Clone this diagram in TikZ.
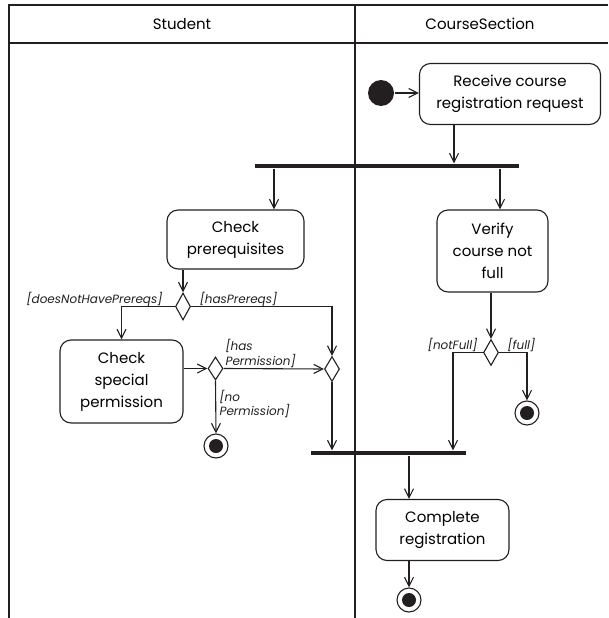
\documentclass[tikz,border=0pt]{standalone}
\usepackage{fontspec}
\setmainfont{Poppins}
\usepackage{tikz}
\usetikzlibrary{positioning,arrows.meta,shapes.geometric}
\definecolor{ink}{HTML}{231F20}

\begin{document}
\begin{tikzpicture}[x=1pt, y=-1pt,
  font=\fontsize{15}{22}\selectfont, line width=1.1pt, draw=ink,
  act/.style={draw=ink, rounded corners=11pt, align=center, inner sep=2pt},
  bar/.style={fill=ink, inner sep=0pt, minimum height=4pt},
  choice/.style={diamond, draw=ink, inner sep=0pt, minimum width=15pt, minimum height=26pt, aspect=0.6},
  startdot/.style={circle, fill=ink, minimum size=26pt, inner sep=0pt},
  enddot/.style={circle, draw=ink, fill=white, minimum size=24pt, inner sep=0pt, path picture={\fill[ink] (path picture bounding box.center) circle (7pt);}},
  lbl/.style={font=\fontsize{12}{12.5}\selectfont\itshape, inner sep=1pt, align=left, text=ink},
  arr/.style={-{Straight Barb[length=9pt, width=9pt]}, draw=ink}]
\useasboundingbox (0,0) rectangle (608,618);
% swimlanes
\draw (9,618) -- (9,5) -- (608,5);
\draw (9,43) -- (608,43);
\draw (355,5) -- (355,618);
\node (stud) at (182,24) {Student};
\node (cs) at (480,24) {CourseSection};
% CourseSection lane
\node[startdot] (start) at (381,93) {};
\node[act, minimum width=181pt, minimum height=61pt] (recv) at (510,94) {Receive course\\registration request};
\node[bar, minimum width=264pt] (fork) at (387,166) {};
\node[act, minimum width=111pt, minimum height=82pt] (verify) at (492.5,251) {Verify\\course not\\full};
\node[choice] (full) at (491,352.5) {};
\node[enddot] (endfull) at (527,413) {};
\node[bar, minimum width=155pt] (join) at (388.5,453) {};
\node[act, minimum width=133pt, minimum height=61pt] (complete) at (442.5,530) {Complete\\registration};
\node[enddot] (enddone) at (409,600) {};
% Student lane
\node[act, minimum width=137pt, minimum height=59pt] (prereq) at (235.5,239.5) {Check\\prerequisites};
\node[choice, minimum height=27pt] (hasprq) at (183,306.5) {};
\node[act, minimum width=123pt, minimum height=83pt] (special) at (121.5,381.5) {Check\\special\\permission};
\node[choice, minimum height=23pt] (hasperm) at (215.5,368.5) {};
\node[choice, minimum height=25pt] (merge) at (332,369) {};
\node[enddot] (endperm) at (216,446) {};
% guards
\node[lbl] (gnoprq) at (94.5,299) {[doesNotHavePrereqs]};
\node[lbl] (gprq) at (238.5,299) {[hasPrereqs]};
\node[lbl, anchor=west] (gperm) at (224,353.5) {[has\\Permission]};
\node[lbl, anchor=west] (gnoperm) at (218,404) {[no\\Permission]};
\node[lbl, anchor=east] (gnotfull) at (479,345) {[notFull]};
\node[lbl, anchor=west] (gfull) at (506,345) {[full]};
% flows
\draw[arr] (start) -- (recv.west |- start);
\draw[arr] ([xshift=-56pt]recv.south) -- ([xshift=-56pt]recv.south |- fork.north);
\draw[arr] ([xshift=38.5pt]prereq.north |- fork.south) -- ([xshift=38.5pt]prereq.north);
\draw[arr] ([xshift=7.5pt]verify.north |- fork.south) -- ([xshift=7.5pt]verify.north);
\draw[arr] (prereq.south -| hasprq) -- (hasprq.north);
\draw[arr] (hasprq.west) -| (special.north); \draw[arr] (hasprq.east) -| (merge.north);
\draw[arr] (special.east |- hasperm) -- (hasperm.west); \draw[arr] (hasperm.east) -- (merge.west);
\draw[arr] (hasperm.south) -- (endperm.north); \draw[arr] (merge.south) -- (merge |- join.north);
\draw[arr] (verify.south -| full) -- (full.north);
\draw[arr] (full.west) -| ([xshift=64.5pt]join.north); \draw[arr] (full.east) -| (endfull.north);
\draw[arr] (join.south -| enddone) -- (complete.north -| enddone);
\draw[arr] (complete.south -| enddone) -- (enddone.north);
\end{tikzpicture}
\end{document}
